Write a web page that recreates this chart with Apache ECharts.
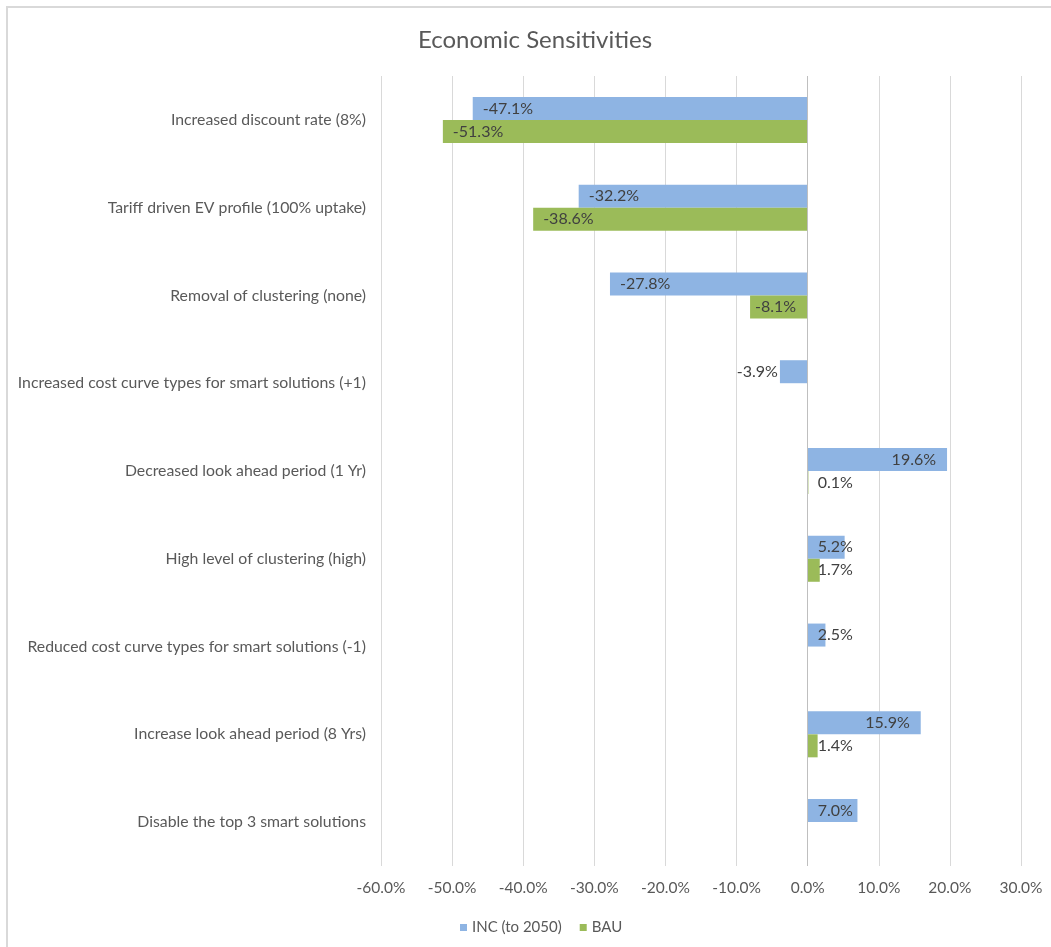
<!DOCTYPE html>
<html>
<head>
<meta charset="utf-8">
<title>Economic Sensitivities</title>
<script src="https://cdn.jsdelivr.net/npm/echarts@6/dist/echarts.min.js"></script>
<style>
  html, body { margin: 0; padding: 0; background: #ffffff; }
  #chart { position: absolute; left: 0; top: 0; width: 1051px; height: 947px; }
  #frame { position: absolute; left: 6px; top: 6px; width: 1200px; height: 1100px;
           border: 2px solid #d9d9d9; box-sizing: border-box; pointer-events: none; }
</style>
</head>
<body>
<div id="chart"></div>
<div id="frame"></div>
<script>
// Sensitivity cases, top to bottom
const categories = [
  'Increased discount rate (8%)',
  'Tariff driven EV profile (100% uptake)',
  'Removal of clustering (none)',
  'Increased cost curve types for smart solutions (+1)',
  'Decreased look ahead period (1 Yr)',
  'High level of clustering (high)',
  'Reduced cost curve types for smart solutions (-1)',
  'Increase look ahead period (8 Yrs)',
  'Disable the top 3 smart solutions'
];

// Percentage change vs. base case
const incValues = [-47.1, -32.2, -27.8, -3.9, 19.6, 5.2, 2.5, 15.9, 7.0];
const bauValues = [-51.3, -38.6, -8.1, null, 0.1, 1.7, null, 1.4, null];

const seriesNames = ['INC (to 2050)', 'BAU'];
const xTicks = { min: -60, max: 30, step: 10 };

const FONT = 'Lato';
const fmtPct = v => v.toFixed(1) + '%';

// Place each value label: inside the bar end when it fits, otherwise near the base / outside
function labelFor(v) {
  if (v === null) return { show: false };
  if (v >= 0) {
    return v < 8 ? { position: 'insideLeft', distance: 10 }
                 : { position: 'insideRight', distance: 11 };
  }
  if (v > -5) return { position: 'left', distance: 2 };
  if (v > -10) return { position: 'insideLeft', distance: 5 };
  return { position: 'insideLeft', distance: 10 };
}

function buildData(values) {
  return values.map(v => ({ value: v, label: labelFor(v) }));
}

const labelStyle = {
  show: true,
  color: '#404040',
  fontFamily: FONT,
  fontSize: 16,
  formatter: p => fmtPct(p.value)
};

const chart = echarts.init(document.getElementById('chart'), null, { renderer: 'canvas' });

chart.setOption({
  backgroundColor: 'transparent',
  animation: false,
  title: {
    text: 'Economic Sensitivities',
    left: 530,
    top: 23,
    textAlign: 'center',
    textStyle: { color: '#595959', fontFamily: FONT, fontSize: 24, fontWeight: 'normal' }
  },
  legend: {
    left: 455,
    top: 915,
    icon: 'rect',
    itemWidth: 7,
    itemHeight: 7,
    itemGap: 18,
    textStyle: { color: '#595959', fontFamily: FONT, fontSize: 15 },
    data: seriesNames
  },
  grid: { left: 381, right: 30, top: 76, bottom: 81, containLabel: false },
  xAxis: {
    type: 'value',
    min: xTicks.min,
    max: xTicks.max,
    interval: xTicks.step,
    axisLine: { show: false },
    axisTick: { show: false },
    splitLine: { show: true, lineStyle: { color: '#d9d9d9', width: 1 } },
    axisLabel: {
      color: '#595959', fontFamily: FONT, fontSize: 15.5, margin: 14,
      formatter: v => fmtPct(v)
    }
  },
  yAxis: {
    type: 'category',
    inverse: true,
    data: categories,
    axisLine: { show: false },
    axisTick: { show: false },
    axisLabel: { color: '#595959', fontFamily: FONT, fontSize: 15.8, margin: 15 }
  },
  series: [
    {
      name: seriesNames[0],
      type: 'bar',
      data: buildData(incValues),
      barGap: '0%',
      barCategoryGap: '47.6%',
      itemStyle: { color: '#8eb4e3' },
      label: labelStyle,
      markLine: {
        silent: true,
        symbol: 'none',
        label: { show: false },
        lineStyle: { color: '#bfbfbf', type: 'solid', width: 1 },
        data: [{ xAxis: 0 }]
      }
    },
    {
      name: seriesNames[1],
      type: 'bar',
      data: buildData(bauValues),
      barGap: '0%',
      barCategoryGap: '47.6%',
      itemStyle: { color: '#9bbb59' },
      label: labelStyle
    }
  ]
});
</script>
</body>
</html>
